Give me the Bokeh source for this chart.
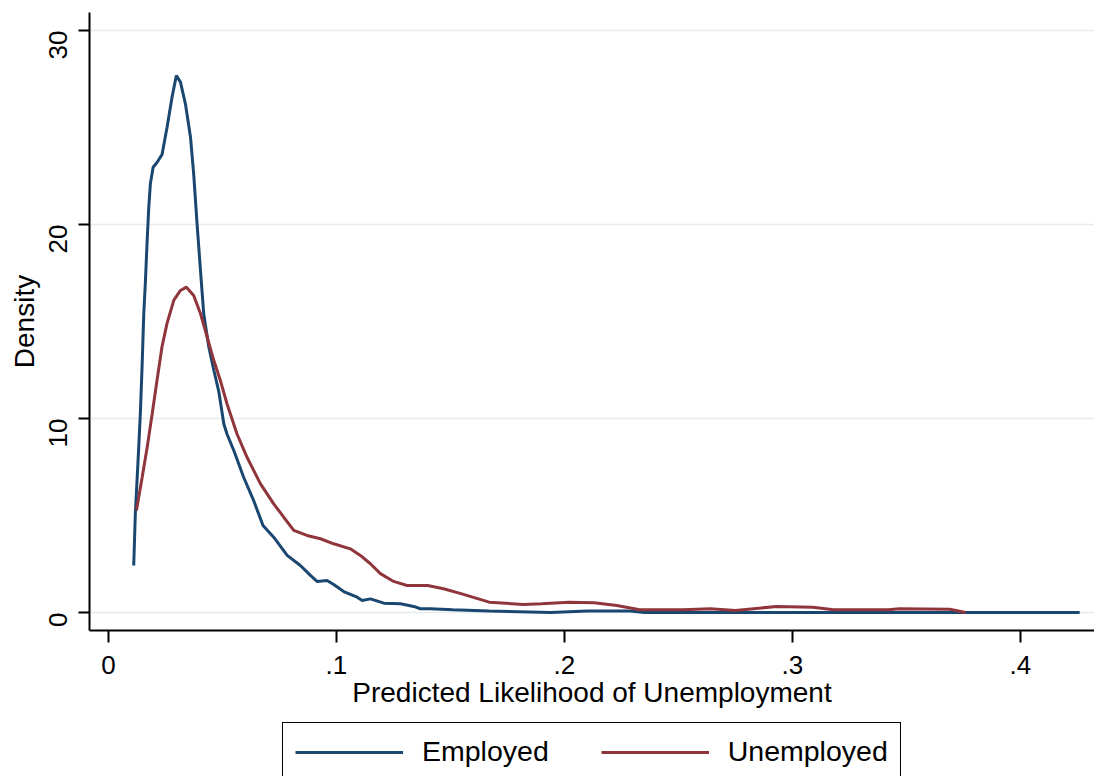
import math
from bokeh.plotting import figure
from bokeh.layouts import column
from bokeh.models import FixedTicker, Legend, LegendItem, Range1d
from bokeh.embed import file_html
from bokeh.resources import INLINE

# Employed (blue) density
emp_x = [0.0111, 0.0118, 0.0133, 0.0140, 0.0148, 0.0155, 0.0162, 0.0170, 0.0177, 0.0184,
         0.0196, 0.0213, 0.0235, 0.0257, 0.0279, 0.0298, 0.0316, 0.0338, 0.0360, 0.0374,
         0.0389, 0.0404, 0.0418, 0.0440, 0.0462, 0.0484, 0.0506, 0.0520, 0.0550, 0.0593,
         0.0637, 0.0678, 0.0725, 0.0784, 0.0842, 0.0886, 0.0915, 0.0959, 0.0988, 0.1032,
         0.1091, 0.1113, 0.1149, 0.1208, 0.1281, 0.1339, 0.1368, 0.1412, 0.1510, 0.1670,
         0.1940, 0.2100, 0.2290, 0.2350, 0.2800, 0.3500, 0.4000, 0.4260]
emp_y = [2.42, 5.09, 8.52, 10.26, 12.8, 15.4, 17.0, 19.2, 20.9, 22.1,
         22.95, 23.2, 23.6, 25.0, 26.56, 27.68, 27.34, 26.2, 24.5, 22.6,
         20.0, 17.6, 15.4, 13.7, 12.5, 11.4, 9.73, 9.2, 8.35, 6.97,
         5.77, 4.48, 3.88, 2.94, 2.42, 1.91, 1.6, 1.65, 1.44, 1.08,
         0.79, 0.62, 0.70, 0.48, 0.45, 0.31, 0.19, 0.19, 0.14, 0.07,
         0.0, 0.07, 0.07, 0.0, 0.0, 0.0, 0.0, 0.0]

# Unemployed (red) density
unemp_x = [0.0123, 0.0148, 0.0170, 0.0192, 0.0213, 0.0235, 0.0257, 0.0287, 0.0316, 0.0342,
           0.0374, 0.0404, 0.0433, 0.0462, 0.0491, 0.0520, 0.0564, 0.0608, 0.0667, 0.0725,
           0.0769, 0.0813, 0.0871, 0.0930, 0.0988, 0.1061, 0.1105, 0.1149, 0.1193, 0.1251,
           0.1310, 0.1400, 0.1470, 0.1550, 0.1670, 0.1820, 0.1900, 0.2020, 0.2130, 0.2230,
           0.2330, 0.2520, 0.2640, 0.2750, 0.2930, 0.3090, 0.3180, 0.3420, 0.3470, 0.3690,
           0.3760]
unemp_y = [5.26, 6.97, 8.52, 10.24, 11.96, 13.7, 14.9, 16.1, 16.6, 16.77,
           16.34, 15.4, 14.2, 13.0, 11.96, 10.76, 9.2, 8.0, 6.63, 5.6,
           4.91, 4.23, 3.97, 3.8, 3.54, 3.28, 2.94, 2.51, 2.0, 1.6,
           1.39, 1.39, 1.22, 0.96, 0.53, 0.41, 0.45, 0.53, 0.50, 0.36,
           0.14, 0.14, 0.19, 0.10, 0.31, 0.27, 0.14, 0.14, 0.19, 0.17,
           0.0]

series_labels = ["Employed", "Unemployed"]
x_ticks = [0, 0.1, 0.2, 0.3, 0.4]
x_tick_labels = ["0", ".1", ".2", ".3", ".4"]
y_ticks = [0, 10, 20, 30]

FONT = "Liberation Sans"
NAVY = "#1a476f"
MAROON = "#90353b"
LW = 3

p = figure(width=1094, height=718, output_backend="svg", toolbar_location=None,
           x_range=Range1d(-0.0083, 0.4325), y_range=Range1d(-0.93, 30.93),
           min_border_left=89, min_border_right=0, min_border_top=12, min_border_bottom=88)
p.outline_line_color = None
p.background_fill_color = "white"
p.border_fill_color = "white"

p.line(emp_x, emp_y, line_color=NAVY, line_width=LW)
p.line(unemp_x, unemp_y, line_color=MAROON, line_width=LW)

p.xgrid.visible = False
p.ygrid.grid_line_color = "#e4ecee"
p.ygrid.grid_line_width = 1.5

p.xaxis.ticker = FixedTicker(ticks=x_ticks)
p.xaxis.major_label_overrides = {t: l for t, l in zip(x_ticks, x_tick_labels)}
p.yaxis.ticker = FixedTicker(ticks=y_ticks)
p.yaxis.major_label_orientation = math.pi / 2

for ax in (p.xaxis[0], p.yaxis[0]):
    ax.axis_line_color = "black"
    ax.axis_line_width = 2
    ax.major_tick_line_color = "black"
    ax.major_tick_line_width = 2
    ax.major_tick_out = 11
    ax.major_tick_in = 0
    ax.minor_tick_line_color = None
    ax.major_label_text_font = FONT
    ax.major_label_text_font_size = "26px"
    ax.major_label_text_color = "black"
    ax.axis_label_text_font = FONT
    ax.axis_label_text_font_size = "28px"
    ax.axis_label_text_font_style = "normal"
    ax.axis_label_text_color = "black"

p.xaxis.major_tick_out = 12
p.xaxis.axis_label = "Predicted Likelihood of Unemployment"
p.yaxis.axis_label = "Density"
p.xaxis.major_label_standoff = 13
p.xaxis.axis_label_standoff = 0
p.yaxis.major_label_standoff = 20
p.yaxis.axis_label_standoff = -2

# legend strip below the plot (same series, plotted out of view so only the key shows)
q = figure(width=1094, height=58, output_backend="svg", toolbar_location=None,
           x_range=Range1d(0, 1), y_range=Range1d(100, 101),
           x_axis_type=None, y_axis_type=None,
           min_border_left=89, min_border_right=0, min_border_top=0, min_border_bottom=0)
q.outline_line_color = None
q.xgrid.visible = False
q.ygrid.visible = False
q.background_fill_color = "white"
q.border_fill_color = "white"
l1 = q.line(emp_x, emp_y, line_color=NAVY, line_width=LW)
l2 = q.line(unemp_x, unemp_y, line_color=MAROON, line_width=LW)

legend = Legend(items=[LegendItem(label=series_labels[0], renderers=[l1]),
                       LegendItem(label=series_labels[1], renderers=[l2])],
                orientation="horizontal", location=(193, -5))
legend.border_line_color = "black"
legend.border_line_alpha = 1.0
legend.border_line_width = 1.8
legend.background_fill_color = "white"
legend.background_fill_alpha = 1.0
legend.label_text_font = FONT
legend.label_text_font_size = "28.5px"
legend.label_text_color = "black"
legend.glyph_width = 108
legend.glyph_height = 30
legend.label_standoff = 19
legend.padding = 12
legend.spacing = 52
legend.margin = 0
q.add_layout(legend, "center")

layout = column(p, q, spacing=0)
open("out.html", "w").write(file_html(layout, INLINE))
